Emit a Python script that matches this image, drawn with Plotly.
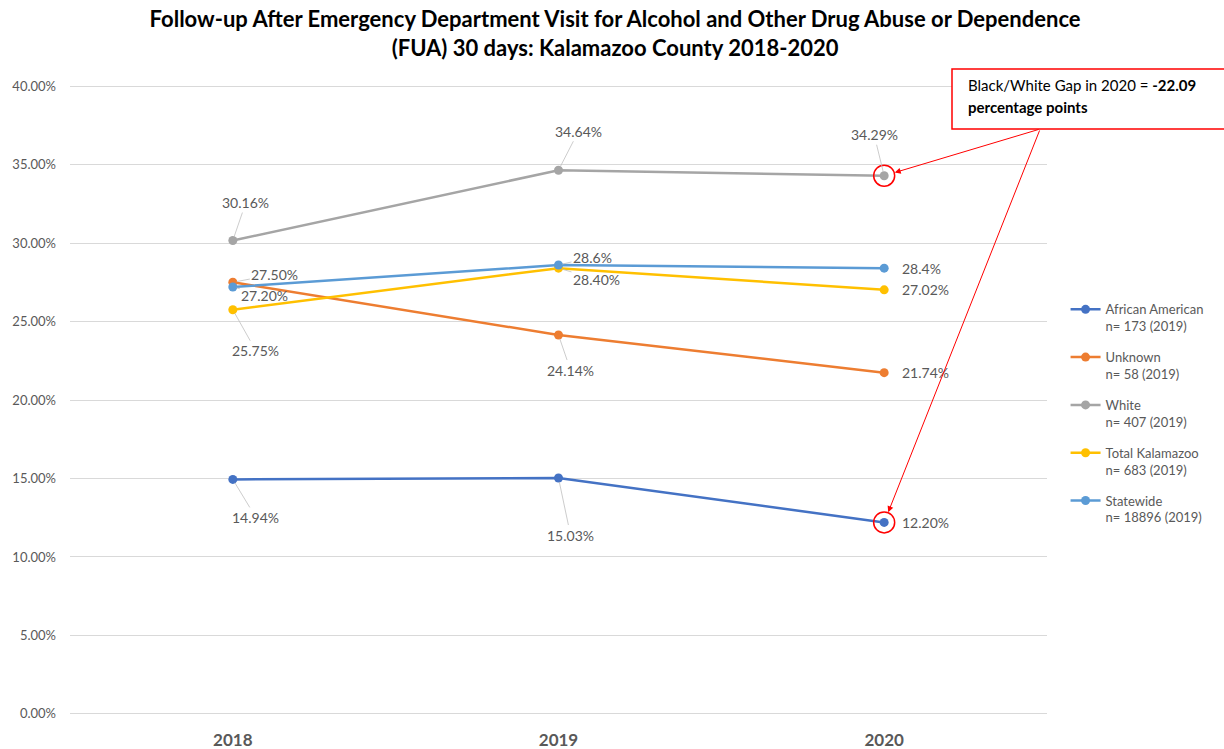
import plotly.graph_objects as go

# Measurement years (category axis)
years = ["2018", "2019", "2020"]

# FUA 30-day follow-up rates, in percent
african_american = [14.94, 15.03, 12.20]
unknown = [27.50, 24.14, 21.74]
white = [30.16, 34.64, 34.29]
total_kalamazoo = [25.75, 28.40, 27.02]
statewide = [27.20, 28.6, 28.4]

# Decimal places shown in each series' data labels
decimals_default = [2, 2, 2]
decimals_statewide = [2, 1, 1]

series_names = [
    "African American<br>n= 173 (2019)",
    "Unknown<br>n= 58 (2019)",
    "White<br>n= 407 (2019)",
    "Total Kalamazoo<br>n= 683 (2019)",
    "Statewide<br>n= 18896 (2019)",
]

y_ticks = [0, 5, 10, 15, 20, 25, 30, 35, 40]
gap_value = -22.09

FONT = "Lato, 'Open Sans', sans-serif"
GREY_TXT = "#595959"

W, H = 1224, 749
M_L, M_R, M_T, M_B = 70, 177, 85, 34
PLOT_W = W - M_L - M_R
PLOT_H = H - M_T - M_B

def px_x(px):
    return (px - M_L) / PLOT_W

def px_y(py):
    return (H - M_B - py) / PLOT_H

series = [
    (african_american, "#4472C4", decimals_default),
    (unknown, "#ED7D31", decimals_default),
    (white, "#A5A5A5", decimals_default),
    (total_kalamazoo, "#FFC000", decimals_default),
    (statewide, "#5B9BD5", decimals_statewide),
]

fig = go.Figure()
for i, ((vals, color, _), name) in enumerate(zip(series, series_names)):
    fig.add_trace(go.Scatter(
        x=years, y=vals, name=name, mode="lines+markers",
        line=dict(color=color, width=2.5),
        marker=dict(color=color, size=9),
        legendgroup=f"g{i}",
        hoverinfo="skip",
    ))

# Red rings highlighting the 2020 Black and White rates
fig.add_trace(go.Scatter(
    x=[years[2], years[2]], y=[white[2], african_american[2]],
    mode="markers", showlegend=False, hoverinfo="skip",
    marker=dict(symbol="circle-open", size=21, color="#FF0000",
                line=dict(width=1.5, color="#FF0000")),
))

# Data label offsets (pixels) per series and year; None = plain label to the right
label_offsets = {
    0: [(23, 38), (12, 57), None],
    1: [(42, -8), (12, 35), None],
    2: [(13, -38), (20, -39), (-10, -41)],
    3: [(23, 41), (38, 11), None],
    4: [(32, 8), (34, -8), None],
}

annotations = []
for si, (vals, color, decs) in enumerate(series):
    for j, v in enumerate(vals):
        txt = f"{v:.{decs[j]}f}%"
        off = label_offsets[si][j]
        # category index j places the label on the year's tick
        if off is None:
            annotations.append(dict(
                x=j, y=v, text=txt, showarrow=False,
                xanchor="left", xshift=16,
                font=dict(family=FONT, size=14, color=GREY_TXT),
            ))
        else:
            annotations.append(dict(
                x=j, y=v, text=txt, showarrow=True,
                ax=off[0], ay=off[1], arrowhead=0, arrowwidth=0.8,
                arrowcolor="#BFBFBF", standoff=4,
                font=dict(family=FONT, size=14, color=GREY_TXT),
            ))

# Call-out text for the Black/White gap
annotations.append(dict(
    xref="paper", yref="paper", x=px_x(966), y=px_y(85),
    xanchor="left", yanchor="middle", showarrow=False,
    text=f"Black/White Gap in 2020 = <b>{gap_value:.2f}</b>",
    font=dict(family=FONT, size=15, color="black"),
))
annotations.append(dict(
    xref="paper", yref="paper", x=px_x(966), y=px_y(107),
    xanchor="left", yanchor="middle", showarrow=False,
    text="<b>percentage points</b>",
    font=dict(family=FONT, size=15, color="black"),
))
# Red arrows from the call-out to the highlighted points
y_px_per_unit = PLOT_H / 40.14
for v in (white[2], african_american[2]):
    annotations.append(dict(
        x=2, y=v, text="", showarrow=True,
        ax=156, ay=(129 - (H - M_B - (v + 0.07) * y_px_per_unit)),
        arrowhead=2, arrowsize=1.2, arrowwidth=1, arrowcolor="#FF0000",
        standoff=11,
    ))

fig.update_layout(
    width=W, height=H,
    margin=dict(l=M_L, r=M_R, t=M_T, b=M_B),
    paper_bgcolor="white", plot_bgcolor="white",
    title=dict(
        text="Follow-up After Emergency Department Visit for Alcohol and Other Drug Abuse or Dependence<br>(FUA) 30 days: Kalamazoo County 2018-2020",
        x=0.5025, xanchor="center", y=0.9635, yanchor="middle",
        font=dict(family=FONT, size=22, color="black", weight="bold"),
    ),
    xaxis=dict(
        type="category", range=[-0.5, 2.5], automargin=False,
        showgrid=False, showline=False, zeroline=False,
        ticks="", ticklabelstandoff=13,
        tickfont=dict(family=FONT, size=17, color=GREY_TXT, weight="bold"),
    ),
    yaxis=dict(
        range=[-0.07, 40.07], tickvals=y_ticks, automargin=False,
        ticktext=[f"{t:.2f}%" for t in y_ticks],
        showgrid=True, gridcolor="#D9D9D9", gridwidth=1,
        zeroline=False, showline=False, ticks="", ticklabelstandoff=13,
        tickfont=dict(family=FONT, size=13, color=GREY_TXT),
    ),
    legend=dict(
        x=1.019, y=0.478, xanchor="left", yanchor="middle",
        traceorder="grouped", tracegroupgap=11, valign="top",
        font=dict(family=FONT, size=13, color=GREY_TXT),
        itemwidth=30,
    ),
    shapes=[dict(
        type="rect", xref="paper", yref="paper",
        x0=px_x(952), x1=px_x(1232), y0=px_y(129), y1=px_y(69),
        line=dict(color="#FF0000", width=1.5), fillcolor="white", layer="above",
    )],
    annotations=annotations,
)

fig.write_html("out.html")
